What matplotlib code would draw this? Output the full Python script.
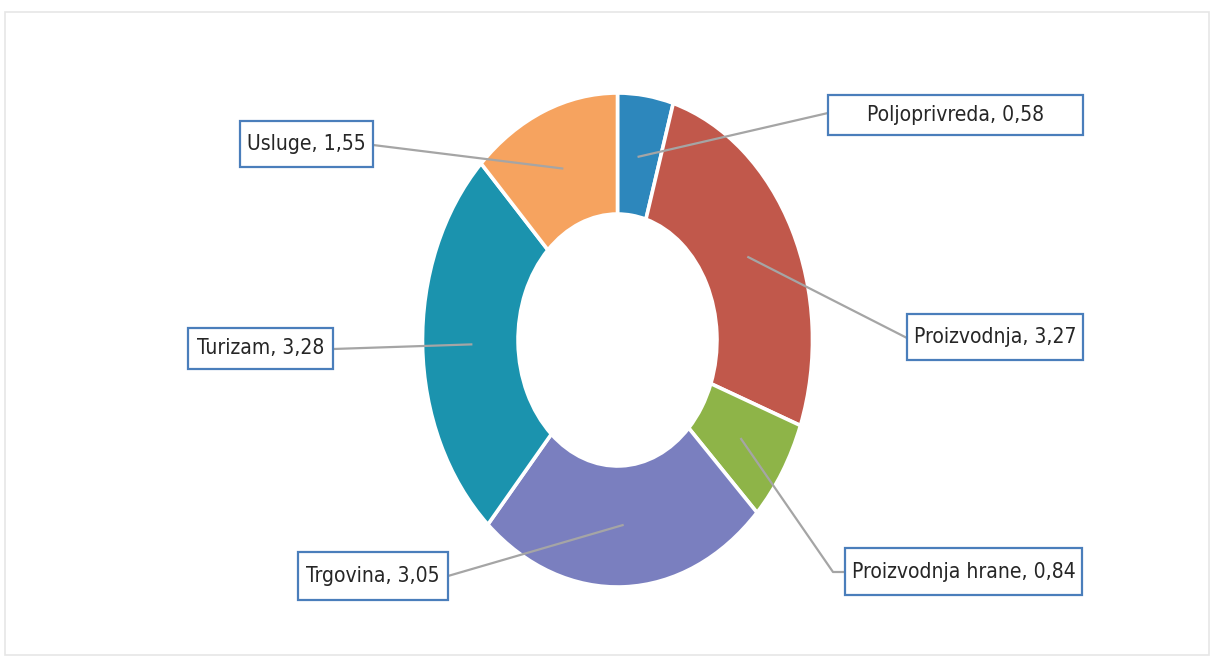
import numpy as np
import matplotlib
matplotlib.use('Agg')
import matplotlib.pyplot as plt
from matplotlib.patches import Rectangle

plt.rcParams['font.family'] = ['DejaVu Sans']
plt.rcParams['font.stretch'] = 'condensed'

# podaci
sektori = ['Poljoprivreda', 'Proizvodnja', 'Proizvodnja hrane', 'Trgovina', 'Turizam', 'Usluge']
vrijednosti = [0.58, 3.27, 0.84, 3.05, 3.28, 1.55]
boje = ['#2D87BC', '#C1584B', '#8EB448', '#7A7FBF', '#1B93AE', '#F6A35F']

W, H = 1214, 660
cx, cy, rx, ry = 617.5, 340, 195, 247   # centar i poluosi u pikselima

def px(x, y):
  return (x - cx) / rx, (cy - y) / ry

# okviri natpisa: lijevo, gore, desno, dolje (pikseli)
okviri = [(828, 95, 1083, 135), (907, 314, 1083, 360), (845, 548, 1082, 595),
          (298, 552, 448, 600), (188, 328, 333, 369), (240, 121, 373, 167)]
# tocka gdje linija dodiruje okvir
spoj = [(828, 113), (907, 338), (845, 572), (448, 576), (333, 349), (373, 145)]
lom = [None, None, (833, 572), None, None, None]

fig = plt.figure(figsize=(W / 100, H / 100), dpi=100)
ax = fig.add_axes([0, 0, 1, 1])
wedges, _ = ax.pie(vrijednosti, colors=boje, startangle=90, counterclock=False,
                   radius=1, wedgeprops=dict(width=0.49, edgecolor='white', linewidth=2.6))
ax.set_aspect('auto')
ax.set_xlim(-cx / rx, (W - cx) / rx)
ax.set_ylim(-(H - cy) / ry, cy / ry)
ax.axis('off')

# velicina fonta prema sirini najduzeg natpisa (~223 px)
renderer = fig.canvas.get_renderer()
probe = fig.text(0, 0, 'Proizvodnja hrane, 0,84', fontsize=20)
sirina = probe.get_window_extent(renderer).width
probe.remove()
fs = 20 * 223 / sirina

for i, w in enumerate(wedges):
  a = np.deg2rad((w.theta1 + w.theta2) / 2)
  x0, y0 = 0.75 * np.cos(a), 0.75 * np.sin(a)
  pts = [(x0, y0)]
  if lom[i]:
    pts.append(px(*lom[i]))
  pts.append(px(*spoj[i]))
  xs, ys = zip(*pts)
  ax.plot(xs, ys, color='#A5A5A5', lw=1.6, zorder=3)

  l, t, r, b = okviri[i]
  x1, y1 = px(l, b)
  x2, y2 = px(r, t)
  ax.add_patch(Rectangle((x1, y1), x2 - x1, y2 - y1, fc='white', ec='#4A7EBB', lw=1.6, zorder=4))
  tekst = f"{sektori[i]}, {vrijednosti[i]:.2f}".replace('.', ',')
  ax.text((x1 + x2) / 2, (y1 + y2) / 2, tekst, ha='center', va='center',
          fontsize=fs, color='#262626', zorder=5)

# blagi okvir grafikona
fx1, fy1 = px(5, 655)
fx2, fy2 = px(1209, 12)
ax.add_patch(Rectangle((fx1, fy1), fx2 - fx1, fy2 - fy1, fill=False, ec='#E6E6E6', lw=1.2, clip_on=False))

fig.savefig('out.png', dpi=100)
